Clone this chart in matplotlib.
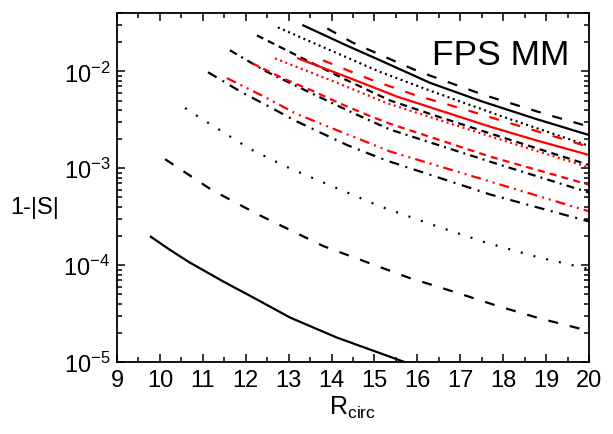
import matplotlib
matplotlib.use("Agg")
import matplotlib.pyplot as plt
from matplotlib.ticker import MultipleLocator, LogLocator, NullFormatter

plt.rcParams['font.family'] = ['Liberation Sans', 'DejaVu Sans']
plt.rcParams['mathtext.fontset'] = 'custom'
plt.rcParams['mathtext.rm'] = 'Liberation Sans'
plt.rcParams['mathtext.it'] = 'Liberation Sans'
plt.rcParams['mathtext.bf'] = 'Liberation Sans'

# black curves
r_b1 = [9.79, 10.24, 10.70, 11.48, 12.26, 13.03, 14.12, 15.70]
s_b1 = [1.96e-4, 1.43e-4, 1.06e-4, 6.76e-5, 4.42e-5, 2.88e-5, 1.79e-5, 1.0e-5]

r_b2 = [10.12, 11.2, 12.27, 13.81, 15.8, 16.85, 17.86, 18.8, 20.0]
s_b2 = [1.24e-3, 6.0e-4, 3.36e-4, 1.57e-4, 7.41e-5, 5.31e-5, 3.8e-5, 2.86e-5, 2.09e-5]

r_b3 = [10.585, 10.9, 12.1, 13.02, 15.13, 16.34, 17.54, 18.74, 20.0]
s_b3 = [4.18e-3, 3.40e-3, 1.58e-3, 1.0e-3, 4.04e-4, 2.62e-4, 1.74e-4, 1.23e-4, 9.1e-5]

r_b4 = [11.12, 11.9, 12.5, 13.15, 13.78, 14.38, 15.06, 15.36, 17.69, 20.0]
s_b4 = [9.79e-3, 6.10e-3, 4.43e-3, 3.10e-3, 2.29e-3, 1.72e-3, 1.31e-3, 1.17e-3, 5.37e-4, 2.82e-4]

r_b5 = [11.63, 12.47, 13.5, 14.5, 15.36, 17.69, 20.0]
s_b5 = [1.65e-2, 1.0e-2, 6.03e-3, 3.72e-3, 2.51e-3, 1.17e-3, 5.62e-4]

r_b6 = [12.26, 13.3, 14.3, 15.36, 16.5, 17.69, 20.0]
s_b6 = [2.35e-2, 1.38e-2, 8.32e-3, 5.01e-3, 3.39e-3, 2.29e-3, 1.08e-3]

r_b7 = [12.75, 13.97, 15.13, 16.3, 18.0, 20.0]
s_b7 = [2.84e-2, 1.65e-2, 9.86e-3, 6.31e-3, 3.39e-3, 1.70e-3]

r_b8 = [13.34, 14.35, 15.13, 16.3, 17.5, 18.75, 20.0]
s_b8 = [2.98e-2, 1.85e-2, 1.30e-2, 7.59e-3, 4.90e-3, 3.24e-3, 2.20e-3]

r_b9 = [13.9, 14.5, 15.53, 16.02, 17.56, 19.05, 20.0]
s_b9 = [2.77e-2, 1.97e-2, 1.24e-2, 1.0e-2, 5.68e-3, 3.55e-3, 2.69e-3]

# red curves
r_r1 = [13.22, 14.35, 15.52, 16.5, 17.69, 18.75, 20.0]
s_r1 = [1.36e-2, 8.77e-3, 5.50e-3, 3.98e-3, 2.69e-3, 1.95e-3, 1.37e-3]

r_r2 = [13.8, 14.41, 14.94, 15.95, 17.0, 18.5, 20.0]
s_r2 = [1.30e-2, 1.01e-2, 8.13e-3, 5.68e-3, 4.17e-3, 2.63e-3, 1.66e-3]

r_r3 = [12.68, 13.97, 15.3, 16.5, 17.69, 20.0]
s_r3 = [1.36e-2, 8.13e-3, 4.68e-3, 3.16e-3, 2.14e-3, 1.02e-3]

r_r4 = [12.15, 12.89, 13.52, 14.2, 14.83, 15.36, 17.69, 20.0]
s_r4 = [1.21e-2, 8.39e-3, 6.40e-3, 4.65e-3, 3.55e-3, 2.88e-3, 1.32e-3, 6.76e-4]

r_r5 = [11.56, 12.45, 13.17, 13.97, 14.72, 15.36, 17.69, 20.0]
s_r5 = [8.51e-3, 5.42e-3, 3.66e-3, 2.63e-3, 1.94e-3, 1.49e-3, 7.30e-4, 3.59e-4]

x_ticks = list(range(9, 21))

fig = plt.figure(figsize=(6.13, 4.35), dpi=100)
ax = fig.add_axes([0.1909, 0.1655, 0.770, 0.8023])

lw = 1.6
long_dash = (0, (4.5, 5.4))
sparse_dot = (0, (0.9, 5.0))
fine_dot = (0, (0.9, 1.6))
short_dash = (0, (3.2, 2.3))
dash_dot = (0, (4.5, 3.0, 0.9, 3.0))
dash_dot2 = (0, (3.6, 2.3, 0.9, 2.3))
dash_dot_dot = (0, (4.5, 2.3, 0.9, 2.3, 0.9, 2.3))

ax.plot(r_b1, s_b1, color='black', lw=lw, ls='-')
ax.plot(r_b2, s_b2, color='black', lw=lw, ls=long_dash)
ax.plot(r_b3, s_b3, color='black', lw=lw, ls=sparse_dot)
ax.plot(r_b4, s_b4, color='black', lw=lw, ls=dash_dot)
ax.plot(r_b5, s_b5, color='black', lw=lw, ls=dash_dot2)
ax.plot(r_b6, s_b6, color='black', lw=lw, ls=short_dash)
ax.plot(r_b7, s_b7, color='black', lw=lw, ls=fine_dot)
ax.plot(r_b8, s_b8, color='black', lw=lw, ls='-')
ax.plot(r_b9, s_b9, color='black', lw=lw, ls=long_dash)

ax.plot(r_r1, s_r1, color='red', lw=lw, ls='-')
ax.plot(r_r2, s_r2, color='red', lw=lw, ls=long_dash)
ax.plot(r_r3, s_r3, color='red', lw=lw, ls=fine_dot)
ax.plot(r_r4, s_r4, color='red', lw=lw, ls=short_dash)
ax.plot(r_r5, s_r5, color='red', lw=lw, ls=dash_dot_dot)

ax.set_yscale('log')
ax.set_xlim(9, 20)
ax.set_ylim(1e-5, 4e-2)
ax.set_xticks(x_ticks)
ax.xaxis.set_minor_locator(MultipleLocator(0.5))
ax.yaxis.set_major_locator(LogLocator(base=10, numticks=10))
ax.yaxis.set_minor_locator(LogLocator(base=10, subs=range(2, 10), numticks=10))
ax.yaxis.set_minor_formatter(NullFormatter())

ax.tick_params(which='both', direction='in', top=True, right=True, labelsize=17, width=1.1)
ax.tick_params(which='major', length=6, pad=5)
ax.tick_params(which='minor', length=3.5)
for sp in ax.spines.values():
    sp.set_linewidth(1.3)

ax.set_xlabel(r'R$_{\mathrm{circ}}$', fontsize=18, labelpad=2)
ax.set_ylabel('1-|S|', fontsize=17, rotation=0, ha='center', va='center')
ax.yaxis.set_label_coords(-0.174, 0.444)

ax.text(0.8136, 0.8825, 'FPS MM', transform=ax.transAxes, fontsize=25.5,
        ha='center', va='center')

fig.savefig('out.png', dpi=100)
